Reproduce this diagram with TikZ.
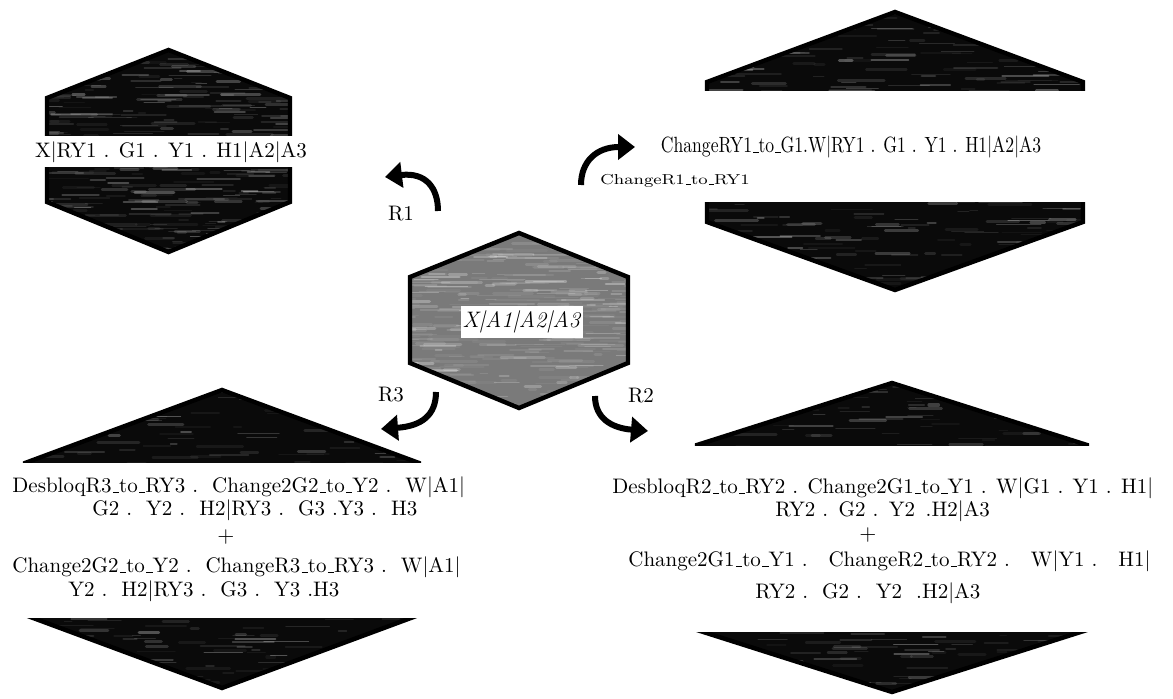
\documentclass[tikz,border=0pt]{standalone}
\usetikzlibrary{arrows.meta}

\tikzset{
  hexline/.style={line width=2.2pt, line join=miter},
  hexdark/.style={fill=black!96},
  hexgray/.style={fill=black!52},
  bigarrow/.style={line width=3pt, -{Triangle[length=8.5pt,width=12.5pt]}},
  band/.style={fill=white, inner xsep=1pt, inner ysep=2.5pt},
  txt/.style={inner sep=0pt, anchor=base west},
  every node/.style={font=\fontsize{10.5}{12.6}\selectfont}
}

% short underscore
\newcommand{\us}{\kern.06em\vbox{\hrule width.3em}}

% hexagon with a streaked fill: centre x, half width, top, shoulder, shoulder, bottom, fill style
\newcommand{\texhex}[7]{%
  \begin{scope}
    \clip (#1-#2,#4) -- (#1,#3) -- (#1+#2,#4) -- (#1+#2,#5) -- (#1,#6) -- (#1-#2,#5) -- cycle;
    \fill[#7] (#1-#2,#3) rectangle (#1+#2,#6);
    \foreach \i in {1,...,420}{
      \pgfmathsetmacro{\sx}{#1-#2-30+rnd*(2*#2+30)}
      \pgfmathsetmacro{\sy}{#3+rnd*(#6-#3)}
      \pgfmathsetmacro{\sl}{6+rnd*40}
      \pgfmathsetmacro{\so}{0.04+0.3*rnd*rnd}
      \pgfmathsetmacro{\sw}{0.4+rnd*1.2}
      \draw[white, opacity=\so, line width=\sw pt, line cap=round] (\sx,\sy) -- ++(\sl,0);
    }
  \end{scope}
  \draw[hexline] (#1-#2,#4) -- (#1,#3) -- (#1+#2,#4) -- (#1+#2,#5) -- (#1,#6) -- (#1-#2,#5) -- cycle;
}

\begin{document}
\begin{tikzpicture}[yscale=-1, x=0.5pt, y=0.5pt]
    \pgfmathsetseed{4711}
    \useasboundingbox (0,0) rectangle (1173,699);
    % top-left hexagon
    \texhex{168.5}{121.5}{50}{98}{202}{252}{hexdark}
    % top-right hexagon
    \texhex{895}{188}{12}{82}{222}{290}{hexdark}
    \fill[white] (695,91) rectangle (1095,202);
    % bottom-left hexagon
    \texhex{222}{197}{390}{463}{615}{688}{hexdark}
    \fill[white] (10,463) rectangle (435,618);
    % bottom-right hexagon
    \texhex{892}{195}{383}{445}{630}{692}{hexdark}
    \fill[white] (685,446) rectangle (1100,632);
    % centre hexagon
    \texhex{519}{109}{233}{277}{363}{408}{hexgray}

    % state labels
    \node[band, font=\fontsize{11.2}{13}\selectfont] (start) at (522,322) {\textit{X|A1|A2|A3}};
    \node[band] (left1) at (171,152) {X|RY1 . G1 . Y1 . H1|A2|A3};
    \node (right1) at (851,147) {\scalebox{0.84}[1.05]{ChangeRY1\us to\us G1.W|RY1 . G1 . Y1 . H1|A2|A3}};

    % bottom-left sum
    \node[txt] (bl1) at (12,493) {DesbloqR3\us to\us RY3 .\ \ Change2G2\us to\us Y2 .\ \ W|A1|};
    \node[txt] (bl2) at (92,516) {G2 .\ \ Y2 .\ \ H2|RY3 .\ \ G3 .Y3 .\ \ H3};
    \node[inner sep=0pt, anchor=base] (blplus) at (226,543) {$+$};
    \node[txt] (bl3) at (12,573) {Change2G2\us to\us Y2 .\ \ ChangeR3\us to\us RY3 .\ \ W|A1|};
    \node[txt] (bl4) at (68,597) {Y2 .\ \ H2|RY3 .\ \ G3 .\ \ Y3 .H3};

    % bottom-right sum
    \node[txt] (br1) at (612,494) {DesbloqR2\us to\us RY2 . Change2G1\us to\us Y1 . W|G1 . Y1 . H1|};
    \node[txt] (br2) at (775,517) {RY2 .\,\ G2 .\,\ Y2 \,.H2|A3};
    \node[inner sep=0pt, anchor=base] (brplus) at (868,541) {$+$};
    \node[txt] (br3) at (628,567) {Change2G1\us to\us Y1 .\ \ \ ChangeR2\us to\us RY2 .\ \ \ W|Y1 .\ \ \ H1|};
    \node[txt] (br4) at (755,599) {RY2 .\ \ G2 .\ \ Y2 \ .H2|A3};

    % arrow ends
    \coordinate (r1s) at (438,211);
    \coordinate (r1e) at (385,177);
    \coordinate (cs) at (581,185);
    \coordinate (ce) at (635,147);
    \coordinate (r3s) at (436,392);
    \coordinate (r3e) at (381,429);
    \coordinate (r2s) at (595,396);
    \coordinate (r2e) at (648,431);

    % R1 arrow
    \draw[bigarrow] (r1s) .. controls (438,188) and (426,172) .. (r1e);
    \node (r1) at (401,214) {R1};
    % change arrow
    \draw[bigarrow] (cs) .. controls (581,161) and (597,147) .. (ce);
    \node (chg) at (675,181) {\scalebox{1.1}[0.9]{\footnotesize ChangeR1\us to\us RY1}};
    % R3 arrow
    \draw[bigarrow] (r3s) .. controls (436,415) and (422,426) .. (r3e);
    \node (r3) at (391,395) {R3};
    % R2 arrow
    \draw[bigarrow] (r2s) .. controls (595,418) and (611,428) .. (r2e);
    \node (r2) at (641,396) {R2};
\end{tikzpicture}
\end{document}
